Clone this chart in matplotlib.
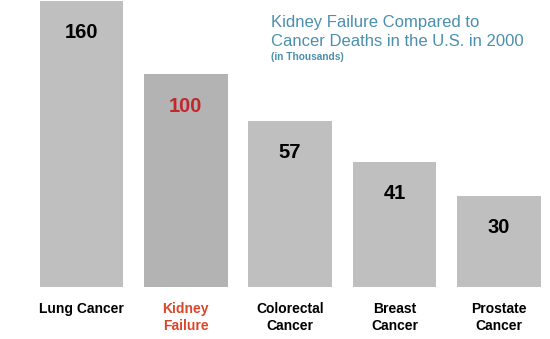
import matplotlib.pyplot as plt

plt.rcParams['font.family'] = ['Liberation Sans', 'DejaVu Sans']

categories = ['Lung Cancer', 'Kidney\nFailure', 'Colorectal\nCancer', 'Breast\nCancer', 'Prostate\nCancer']
deaths = [160, 100, 57, 41, 30]            # printed values (thousands)
bar_heights = [160, 119, 93, 70, 51]       # bar heights as drawn in the picture
highlight = 1                              # Kidney Failure

bar_gray = '#bfbfbf'
bar_dark = '#b3b3b3'
red_num = '#c1272d'
red_lab = '#d9472b'
blue = '#4a8fae'

fig = plt.figure(figsize=(5.5, 3.39), dpi=100)
ax = fig.add_axes([0, 52 / 339, 1, 286 / 339])

x = list(range(len(categories)))
colors = [bar_dark if i == highlight else bar_gray for i in x]
bars = ax.bar(x, bar_heights, width=0.8, color=colors, linewidth=0)

for i, (b, v) in enumerate(zip(bars, deaths)):
    ax.annotate(str(v), (b.get_x() + b.get_width() / 2, b.get_height()),
                xytext=(0, -23), textcoords='offset points',
                ha='center', va='center', fontsize=14.5, fontweight='bold',
                color=red_num if i == highlight else 'black')

ax.set_xlim(-0.78, 4.49)
ax.set_ylim(0, 160)
ax.set_xticks(x)
ax.set_xticklabels(categories, fontsize=10, fontweight='bold', linespacing=1.25)
ax.get_xticklabels()[highlight].set_color(red_lab)
ax.tick_params(axis='x', length=0, pad=11)
ax.set_yticks([])
for s in ax.spines.values():
    s.set_visible(False)

fig.text(271 / 550, 1 - 15 / 339, 'Kidney Failure Compared to\nCancer Deaths in the U.S. in 2000',
         ha='left', va='top', fontsize=12, color=blue, linespacing=1.3)
fig.text(271 / 550, 1 - 57 / 339, '(in Thousands)', ha='left', va='center',
         fontsize=7.3, fontweight='bold', color=blue)

fig.savefig('out.png', dpi=100)
